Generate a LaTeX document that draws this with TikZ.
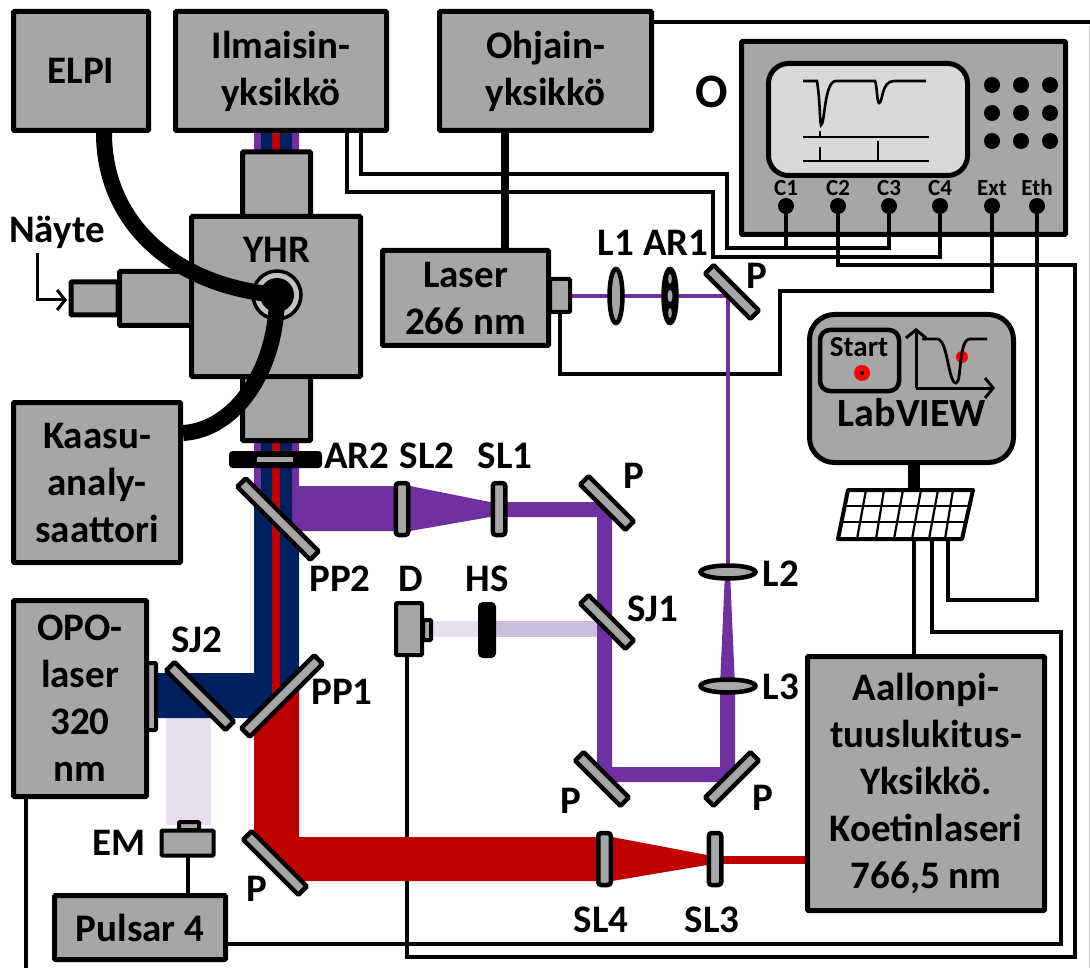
\documentclass[tikz,border=0pt]{standalone}
\usepackage{fontspec}
\usetikzlibrary{shapes.geometric,arrows.meta}
\setmainfont{Carlito}
\definecolor{boxgray}{HTML}{A6A6A6}
\definecolor{beamred}{HTML}{C00000}
\definecolor{beamnavy}{HTML}{002060}
\definecolor{beampurple}{HTML}{7030A0}
\definecolor{fadeA}{HTML}{E5DFEE}
\definecolor{fadeB}{HTML}{C9BEDB}
\tikzset{
  box/.style={draw,line width=5pt,fill=boxgray,inner sep=0pt,rounded corners=1pt,align=center,
    font=\fontsize{39}{47}\bfseries\selectfont},
  part/.style={draw,line width=4pt,fill=boxgray,inner sep=0pt,rounded corners=1pt},
  mirror/.style={part,minimum width=#1,minimum height=12pt,line width=4.5pt},
  slab/.style={part,minimum width=12.5pt,minimum height=52pt,line width=4.5pt,rounded corners=3pt},
  lens/.style={draw,ellipse,line width=4.5pt,fill=boxgray,inner sep=0pt},
  lbl/.style={inner sep=0pt,font=\fontsize{39}{44}\bfseries\selectfont},
  port/.style={circle,fill=black,inner sep=0pt,minimum size=16pt},
  portlbl/.style={inner sep=0pt,font=\fontsize{23}{26}\bfseries\selectfont},
  wire/.style={line width=3.3pt,line join=miter},
  cable/.style={line width=16pt},
  openarrow/.style={->,>={Straight Barb[length=8pt,width=20pt]}},
}
\begin{document}
\begin{tikzpicture}[x=1pt,y=-1pt]
  \useasboundingbox (0,0) rectangle (1090,968);

  % oscilloscope
  \node[box,minimum width=324pt,minimum height=193pt] (scope) at (903.5,138) {};
  \node[draw,line width=5pt,fill=gray!30,rounded corners=20pt,minimum width=199pt,minimum height=112pt] (screen) at (868,119.5) {};
  \draw[line width=2.6pt] (803,81) -- (817,81) .. controls (820,100) and (820,125) .. (821,125) .. controls (825,125) and (824,81) .. (836,81) -- (875,81) .. controls (877,85) and (877,103) .. (879,103) .. controls (883,103) and (881,81) .. (894,81) -- (926,81);
  \draw[line width=2.4pt] (803,137) -- (929,137) (820,131) -- (820,137);
  \draw[line width=2.4pt] (803,161) -- (929,161) (820,147) -- (820,161) (878,141) -- (878,161);
  \foreach \xx in {992,1021,1050}
    \foreach \yy in {85,113,141}
      \fill (\xx,\yy) circle (8);
  \foreach \name/\xx/\txt in {c1/786/C1,c2/838/C2,c3/889/C3,c4/940/C4,ext/992/Ext,eth/1037/Eth}{
    \node[port] (\name) at (\xx,206) {};
    \node[portlbl] (\name lbl) at (\xx,188) {\txt};
  }

  % computer
  \node[draw,line width=5pt,fill=boxgray,rounded corners=25pt,minimum width=204pt,minimum height=148pt] (labbox) at (911.5,388.5) {};
  \node[draw,line width=4.5pt,rounded corners=10pt,minimum width=79pt,minimum height=61pt] (start) at (859.5,360.5) {};
  \node[inner sep=0pt,font=\fontsize{29}{32}\bfseries\selectfont] (startlbl) at (859,347) {Start};
  \fill[red] (862,373) circle (8);
  \fill (862,373) circle (2);
  \fill[red] (962,357) circle (6);
  \draw[line width=3pt,openarrow] (916,388) -- (995,388);
  \draw[line width=3pt,openarrow] (916,388) -- (916,328);
  \draw[line width=2.8pt] (922,339) -- (937,339) .. controls (948,339) and (948,383) .. (956,383) .. controls (962,383) and (958,339) .. (970,339) -- (987,339);
  \node[inner sep=0pt,font=\fontsize{40}{44}\bfseries\selectfont] (labview) at (912,413) {LabVIEW};
  \coordinate (kbdT) at (914,490);
  \draw[line width=12pt] (labbox) ++(2.5,74) -- (kbdT);
  \fill[white] (848,490) -- (973,490) -- (962,539) -- (838,539) -- cycle;
  \foreach \t/\b in {866/857,884/876,903/894,921/912,938/929,953/945}
    \draw[line width=2.2pt] (\t,490) -- (\b,539);
  \draw[line width=2.2pt] (844,506) -- (968,506) (841,522) -- (965,522);
  \draw[line width=4pt,line join=round] (848,490) -- (973,490) -- (962,539) -- (838,539) -- cycle;

  % connection points on the boxes
  \coordinate (ilmA) at (361,133);
  \coordinate (ilmB) at (347,133);
  \coordinate (kbdA) at (914,539);
  \coordinate (kbdB) at (932,539);
  \coordinate (kbdC) at (948,539);
  \coordinate (headB) at (560,313);
  \coordinate (dBot) at (407,657);
  \coordinate (opoB) at (26,798);
  \coordinate (opoEnd) at (26,968);
  \coordinate (ohjEnd) at (1090,22);

  % wires
  \draw[wire] (ilmA) -- (361,174) -- (727,174) -- (727,248) -- (889,248) -- (c3);% C3
  \draw[wire] (c1) -- (786,248);% C1
  \draw[wire] (ilmB) -- (347,192) -- (713,192) -- (713,257) -- (940,257) -- (c4);% C4
  \draw[wire] (c2) -- (838,265) -- (1075,265) -- (1075,957) -- (407,957) -- (dBot);% C2 to D
  \draw[wire] (ext) -- (992,291) -- (780,291) -- (780,374) -- (560,374) -- (headB);% Ext
  \draw[wire] (eth) -- (1037,600) -- (948,600) -- (kbdC);% Eth
  \draw[wire] (kbdB) -- (932,632) -- (1061,632) -- (1061,944) -- (228,944);% to Pulsar
  \draw[wire] (kbdA) -- (914,655);
  \draw[wire] (654,22) -- (ohjEnd);
  \draw[gray!45,line width=1pt] (1089.5,26) -- (1089.5,968);
  \draw[wire] (opoB) -- (opoEnd);
  \draw[wire] (188,857) -- (188,893);

  % beams
  \fill[beampurple] (254,133) -- (299,133) -- (299,486) -- (395,486) -- (395,531) -- (290,531) -- (254,495) -- cycle;
  \fill[beampurple] (395,486) -- (410,486) -- (490,502) -- (490,517) -- (410,531) -- (395,531) -- cycle;
  \fill[beampurple] (490,502) -- (612,502) -- (612,767) -- (720,767) -- (720,686) -- (725,572) -- (730,572) -- (735,686) -- (735,774) -- (727,782) -- (597,782) -- (597,517) -- (490,517) -- cycle;
  \fill[beampurple] (726,296) rectangle (730,572);
  \fill[beampurple] (572,294) rectangle (730,298);
  \fill[fadeB] (496,621) rectangle (597,637);
  \fill[fadeA] (433,621) rectangle (478,637);
  \fill[fadeA] (166,718) rectangle (211,825);
  \fill[beamnavy] (261,133) -- (292,133) -- (292,533) -- (261,502) -- cycle;
  \fill[beamnavy] (254,495) -- (299,540) -- (299,679) -- (260,718) -- (155,718) -- (155,673) -- (254,673) -- cycle;
  \fill[beamred] (272,133) rectangle (280,704);
  \fill[beamred] (299,679) -- (299,837) -- (612,837) -- (707,855) -- (707,865) -- (612,881) -- (293,881) -- (254,842) -- (254,724) -- cycle;

  % boxes
  \node[box,minimum width=135pt,minimum height=119pt] (elpi) at (81,71) {ELPI};
  \node[box,minimum width=211pt,minimum height=119pt] (ilmaisin) at (281,71) {Ilmaisin-\\yksikkö};
  \node[box,minimum width=212pt,minimum height=119pt] (ohjain) at (545.5,71) {Ohjain-\\yksikkö};
  \node[box,minimum width=167pt,minimum height=160pt] (kaasu) at (97,482.5) {Kaasu-\\analy-\\saattori};
  \node[part,minimum width=20pt,minimum height=33pt] (laserhead) at (560,295.5) {};
  \node[box,minimum width=166pt,minimum height=95pt] (laser) at (465.5,298) {Laser\\266 nm};
  \draw[line width=8.5pt] (ohjain.south -| 505,0) -- (laser.north -| 505,0);
  \node[part,minimum width=10pt,minimum height=67pt] (opohead) at (151,696.5) {};
  \node[box,minimum width=133pt,minimum height=196pt] (opo) at (80,698.5) {OPO-\\laser\\320\\nm};
  \node[part,minimum width=20pt,minimum height=8pt] (emhead) at (189,826) {};
  \node[part,minimum width=52pt,minimum height=25pt] (em) at (187.5,843) {};
  \node[box,minimum width=171pt,minimum height=64pt] (pulsar) at (140,927.5) {Pulsar 4};
  \node[box,minimum width=237pt,minimum height=254pt] (aallon) at (926,783.5) {Aallonpi-\\tuuslukitus-\\Yksikkö.\\Koetinlaseri\\766,5 nm};
  \draw[beamred,line width=8pt] (715,860) -- (aallon.west |- 715,860);
  \node[part,minimum width=8pt,minimum height=20pt] (dhead) at (427,630) {};
  \node[part,minimum width=26pt,minimum height=52pt] (det) at (409,629) {};
  \node[part,fill=black,minimum width=14pt,minimum height=52pt,rounded corners=3pt] (hs) at (487,630) {};

  % reaction chamber
  \node[part,line width=5pt,minimum width=68pt,minimum height=66pt] (armT) at (276.5,185) {};
  \node[part,line width=5pt,minimum width=68pt,minimum height=65pt] (armB) at (276.5,408) {};
  \node[part,line width=5pt,minimum width=47pt,minimum height=33pt] (tip) at (94.5,298.5) {};
  \node[part,line width=5pt,minimum width=73pt,minimum height=54pt] (armL) at (156,298.5) {};
  \node[box,minimum width=169pt,minimum height=160pt] (yhr) at (276,296.5) {};
  \node[lbl] (yhrlbl) at (277,250) {YHR};
  \node[draw,circle,line width=3.5pt,fill=boxgray!70,inner sep=0pt,minimum size=48pt] (port) at (277,295) {};
  \node[circle,fill=black,inner sep=0pt,minimum size=34pt] (portin) at (277,295) {};
  \draw[cable] (104,133) .. controls (104,220) and (170,285) .. (port.center);
  \draw[cable] (kaasu.east |- 0,433) .. controls (235,430) and (277,370) .. (port.center);

  % AR2
  \node[part,fill=black,minimum width=89pt,minimum height=13pt,rounded corners=2pt] (ar2) at (275.5,459.5) {};
  \fill[boxgray] (257,457) rectangle (293,462);

  % mirrors
  \node[mirror=64pt,rotate=-45] (pa) at (732,292) {};
  \node[mirror=64pt,rotate=-45] (pb) at (607,503) {};
  \node[mirror=64pt,rotate=-45] (sj1) at (607,622) {};
  \node[mirror=64pt,rotate=-45] (pc) at (602,779) {};
  \node[mirror=64pt,rotate=45] (pd) at (732,779) {};
  \node[mirror=103pt,rotate=-45] (pp2) at (278,519) {};
  \node[mirror=103pt,rotate=45] (pp1) at (282,696) {};
  \node[mirror=84pt,rotate=-45] (sj2) at (200,696) {};
  \node[mirror=78pt,rotate=-45] (pe) at (275,863) {};

  % lenses
  \node[lens,minimum width=13pt,minimum height=54pt] (l1) at (616,296) {};
  \node[lens,fill=black,minimum width=13pt,minimum height=54pt] (ar1) at (670,296) {};
  \fill[boxgray] (670,296) ellipse (2.5 and 6);
  \fill[boxgray] (670,279) ellipse (1.8 and 5);
  \fill[boxgray] (670,313) ellipse (1.8 and 5);
  \node[lens,minimum width=55pt,minimum height=13pt] (l2) at (728,572) {};
  \node[lens,minimum width=55pt,minimum height=13pt] (l3) at (728,686) {};
  \node[slab] (sl2) at (402,509) {};
  \node[slab] (sl1) at (499,509) {};
  \node[slab] (sl4) at (604.5,859) {};
  \node[slab] (sl3) at (715,859) {};

  % sample arrow
  \draw[line width=3pt,openarrow] (37,253) -- (37,300) -- (67,300);

  % labels
  \node[lbl,font=\fontsize{39}{44}\bfseries\selectfont] (nayte) at (57,232) {Näyte};
  \node[lbl,font=\fontsize{48}{50}\bfseries\selectfont] (olbl) at (712,92) {O};
  \foreach \txt/\xx/\yy in {L1/616/243,AR1/676/243,P/757/276,AR2/357/456,SL2/427/456,SL1/505/456,
    P/634/476,PP2/340/579,D/411/579,HS/487/579,SJ1/653/609,L2/781/574,L3/781/687,PP1/342/692,
    SJ2/197/640,EM/119/843,P/257/889,P/571/801,P/763/798,SL4/601/920,SL3/712/920}
    \node[lbl] at (\xx,\yy) {\txt};
\end{tikzpicture}
\end{document}
